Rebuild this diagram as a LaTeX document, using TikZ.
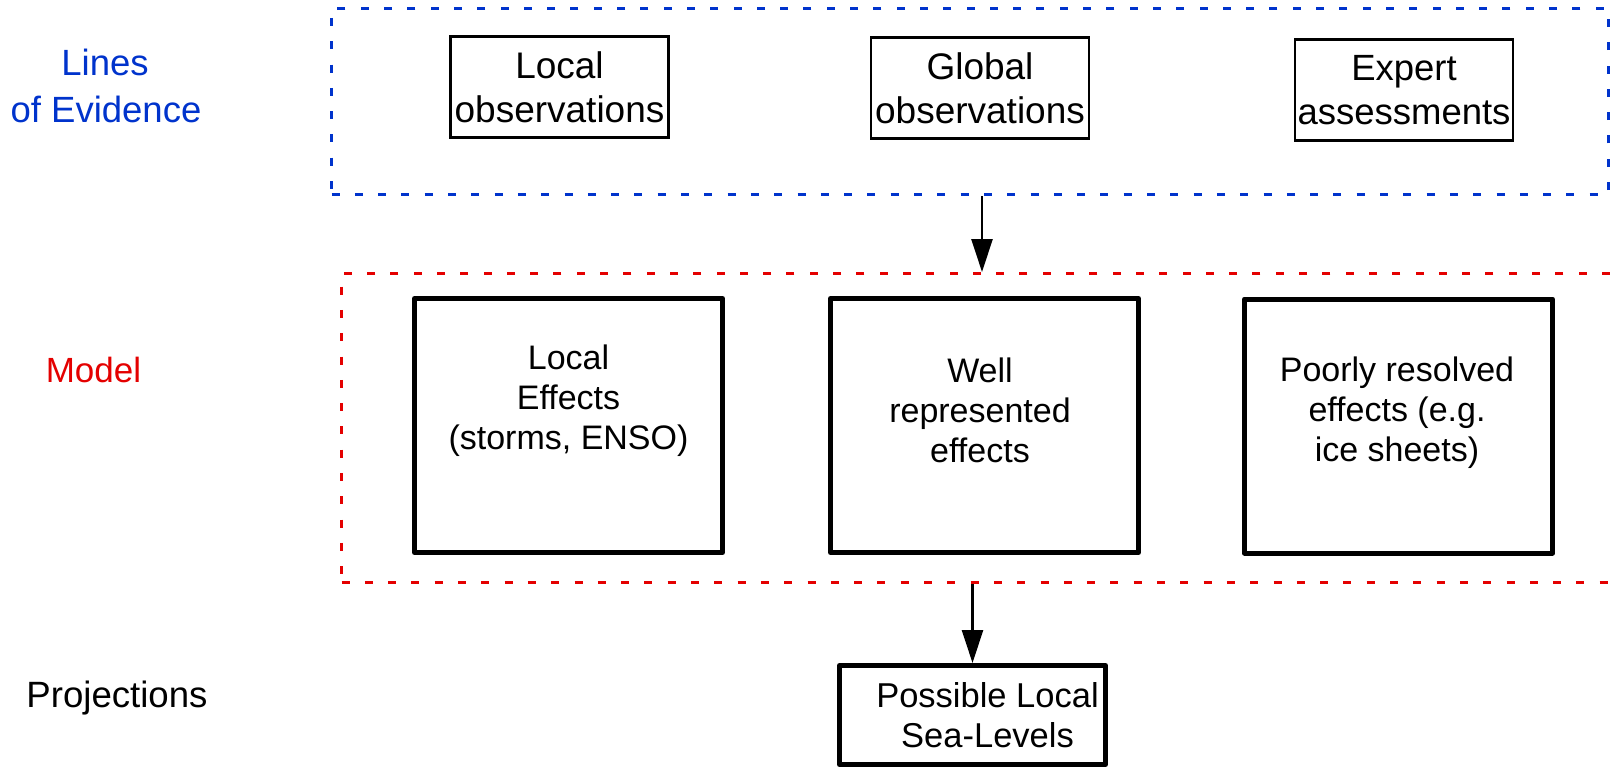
\documentclass[tikz,border=0pt]{standalone}
\usepackage{fontspec}
\setmainfont{Liberation Sans}
\usetikzlibrary{arrows.meta}
\definecolor{evblue}{RGB}{0,51,204}
\definecolor{modred}{RGB}{228,0,0}
\tikzset{
  x=1pt, y=-1pt,
  group/.style={draw, line width=3pt, dash pattern=on 8pt off 15.3pt, fill=none, inner sep=0pt},
  evbox/.style={draw, line width=2.6pt, minimum width=218pt, minimum height=101pt, inner sep=0pt},
  effbox/.style={draw, line width=5pt, line join=round, minimum width=308pt, minimum height=254pt, inner sep=0pt},
  txt/.style={align=center, inner sep=0pt},
  flow/.style={line width=2.6pt, -{Triangle[width=21pt,length=33pt]}},
  rowlabel/.style={anchor=base, inner sep=0pt}
}
\begin{document}
\begin{tikzpicture}
\useasboundingbox (0,0) rectangle (1617,769);

% row labels
\node[rowlabel, text=evblue, font=\fontsize{36.5}{45}\selectfont] (lab1a) at (105,75) {Lines};
\node[rowlabel, text=evblue, font=\fontsize{36.5}{45}\selectfont] (lab1b) at (106,122) {of Evidence};
\node[rowlabel, text=modred, font=\fontsize{35}{42}\selectfont] (lab2) at (93.5,382) {Model};
\node[rowlabel, font=\fontsize{36.6}{44}\selectfont] (lab3) at (117,707) {Projections};

% lines of evidence group
\node[group, draw=evblue, minimum width=1277pt, minimum height=186pt] (evidence) at (970,101.5) {};
\node[evbox] (locobs) at (559.5,87) {};
\node[evbox] (globobs) at (980,88) {};
\node[evbox] (expert) at (1404,90) {};
\node[txt, font=\fontsize{37}{44}\selectfont] (locobst) at (locobs) {Local\\observations};
\node[txt, font=\fontsize{37}{44}\selectfont] (globobst) at (globobs) {Global\\observations};
\node[txt, font=\fontsize{36.5}{44}\selectfont] (expertt) at (expert) {Expert\\assessments};

% model group
\node[group, draw=modred, minimum width=1318.5pt, minimum height=309pt] (model) at (1000.75,428) {};
\node[effbox] (loceff) at (568.5,425.5) {};
\node[effbox] (wellrep) at (984.5,425.5) {};
\node[effbox] (poorres) at (1398.5,426) {};
\node[txt, font=\fontsize{34}{40}\selectfont] (loceft) at (568.5,401) {Local\\Effects\\(storms, ENSO)};
\node[txt, font=\fontsize{34}{40}\selectfont] (wellrept) at (980,410.5) {Well\\represented\\effects};
\node[txt, font=\fontsize{34}{40}\selectfont] (poorrest) at (1397,413) {Poorly resolved\\effects (e.g.\\ice sheets)};

% projection
\node[draw, line width=5pt, line join=round, minimum width=266pt, minimum height=99pt, inner sep=0pt] (proj) at (972.5,715) {};
\node[txt, font=\fontsize{34.5}{40}\selectfont] (projt) at ([xshift=15pt]proj.center) {Possible Local\\Sea-Levels};

% connectors
\draw[flow] ([xshift=2pt]evidence.south -| globobs.center) -- ([xshift=2pt]model.north -| globobs.center);
\draw[flow] (model.south -| proj.center) -- (proj.north);
\end{tikzpicture}
\end{document}
